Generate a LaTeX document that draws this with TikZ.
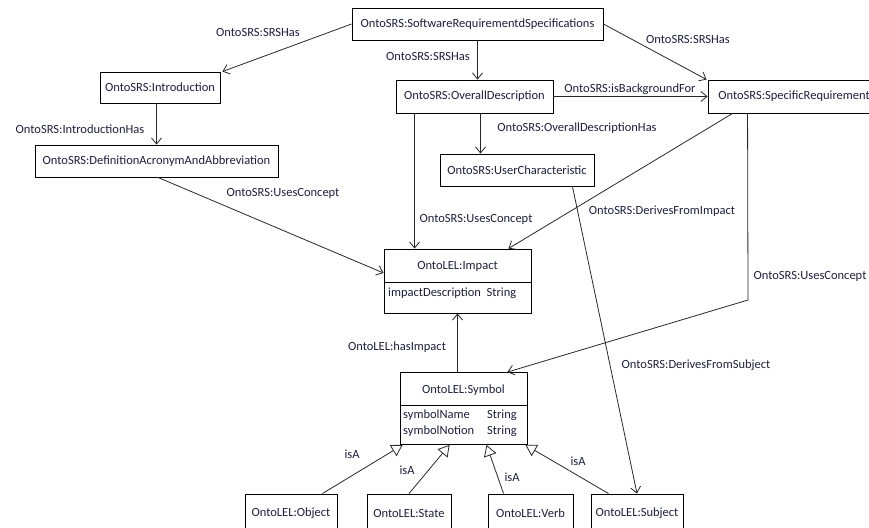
\documentclass[tikz,border=0pt]{standalone}
\usepackage{fontspec}
\setmainfont{Carlito}
\usetikzlibrary{arrows.meta}
\definecolor{txt}{RGB}{28,32,62}
\definecolor{ln}{RGB}{40,40,40}
\tikzset{
  x=1pt, y=-1pt,
  every node/.style={font=\fontsize{12.5}{14}\selectfont, text=txt, inner sep=0pt},
  cls/.style={draw=black, line width=0.9pt, fill=white, minimum width=#1, minimum height=32pt},
  ubox/.style={draw=black, line width=0.9pt, minimum width=#1},
  rel/.style={draw=ln, line width=0.8pt, -{Straight Barb[length=6pt,width=10pt]}},
  gen/.style={draw=ln, line width=0.8pt, -{Triangle[open,length=11pt,width=13pt,fill=white]}},
}
\begin{document}
\begin{tikzpicture}
\useasboundingbox (0,0) rectangle (869,527);
\clip (0,0) rectangle (869,527);
% class boxes
\node[cls=251pt] (srs) at (477.5,24) {OntoSRS:SoftwareRequirementdSpecifications};
\node[cls=120pt, minimum height=31pt] (intro) at (160,87.5) {OntoSRS:Introduction};
\node[cls=243pt] (def) at (156.5,161) {OntoSRS:DefinitionAcronymAndAbbreviation};
\node[cls=157pt, minimum height=33pt] (ov) at (474.5,96.5) {OntoSRS:OverallDescription};
\node[cls=177pt, minimum height=33pt] (sr) at (796.5,96.5) {OntoSRS:SpecificRequirements};
\node[cls=154pt] (uc) at (517,170) {OntoSRS:UserCharacteristic};
% Impact
\node[ubox=147pt, minimum height=64pt] (imp) at (457.5,281) {};
\draw[line width=0.9pt] (imp.west |- 0,282) -- (imp.east |- 0,282);
\node (impt) at (457.5,266) {OntoLEL:Impact};
\node[anchor=west] (impa) at (388,293) {impactDescription\ \ String};
% Symbol
\node[ubox=127pt, minimum height=72pt] (sym) at (463.5,408.5) {};
\draw[line width=0.9pt] (sym.west |- 0,405) -- (sym.east |- 0,405);
\node (symt) at (463.5,390) {OntoLEL:Symbol};
\node[anchor=west] (syma) at (403,415.5) {symbolName};
\node[anchor=west] (symb) at (403,431.5) {symbolNotion};
\node[anchor=west] (symc) at (487,415.5) {String};
\node[anchor=west] (symd) at (487,431.5) {String};
% bottom boxes
\node[cls=92pt, minimum height=42pt] (obj) at (291,515) {};
\node (objt) at (291,513) {OntoLEL:Object};
\node[cls=84pt, minimum height=42pt] (st) at (409,515) {};
\node (stt) at (409,513) {OntoLEL:State};
\node[cls=85pt, minimum height=42pt] (vb) at (530.5,515) {};
\node (vbt) at (530.5,513) {OntoLEL:Verb};
\node[cls=92pt, minimum height=42pt] (sub) at (637,515) {};
\node (subt) at (637,513) {OntoLEL:Subject};
% connectors
\draw[rel] (srs.west) -- ([xshift=2pt]intro.north east);
\draw[rel] (srs.south) -- (srs.south |- ov.north);
\draw[rel] (srs.east) -- ([xshift=-1pt]sr.north west);
\draw[rel] (def.north |- intro.south) -- (def.north);
\draw[rel] (ov.east) -- (sr.west);
\draw[rel] ([xshift=6pt]ov.south) -- ([xshift=6pt]ov.south |- uc.north);
\draw[rel] ([xshift=1.5pt]def.south) -- ([yshift=8pt]imp.west);
\draw[rel] ([xshift=19pt]ov.south west) -- ([xshift=19pt]ov.south west |- imp.north);
\draw[rel] ([xshift=25pt]sr.south west) -- ([xshift=-23pt]imp.north east);
\coordinate (bend) at (748,300);
\draw[rel] ([xshift=40pt]sr.south west) -- (bend) -- ([xshift=-20pt]sym.north east);
\draw[rel] ([xshift=-22pt]uc.south east) -- (sub.north);
\draw[rel] (imp.south |- sym.north) -- (imp.south);
\draw[gen] ([xshift=-15pt]obj.north east) -- ([xshift=3pt]sym.south west);
\draw[gen] (st.north) -- ([xshift=50pt]sym.south west);
\draw[gen] ([xshift=16pt]vb.north west) -- ([xshift=87pt]sym.south west);
\draw[gen] ([xshift=18pt]sub.north west) -- ([xshift=-2pt]sym.south east);
% labels
\node (l1) at (258,32) {OntoSRS:SRSHas};
\node (l2) at (428,56) {OntoSRS:SRSHas};
\node (l3) at (688,39) {OntoSRS:SRSHas};
\node (l4) at (80,129) {OntoSRS:IntroductionHas};
\node (l5) at (630,89) {OntoSRS:isBackgroundFor};
\node (l6) at (577,128) {OntoSRS:OverallDescriptionHas};
\node (l7) at (283,193) {OntoSRS:UsesConcept};
\node (l8) at (476,219) {OntoSRS:UsesConcept};
\node (l9) at (662,211) {OntoSRS:DerivesFromImpact};
\node (l10) at (810,276) {OntoSRS:UsesConcept};
\node (l11) at (696,365) {OntoSRS:DerivesFromSubject};
\node (l12) at (397,347) {OntoLEL:hasImpact};
\node (l13) at (352,454) {isA};
\node (l14) at (407,470) {isA};
\node (l15) at (512,477) {isA};
\node (l16) at (578,461) {isA};
\end{tikzpicture}
\end{document}
